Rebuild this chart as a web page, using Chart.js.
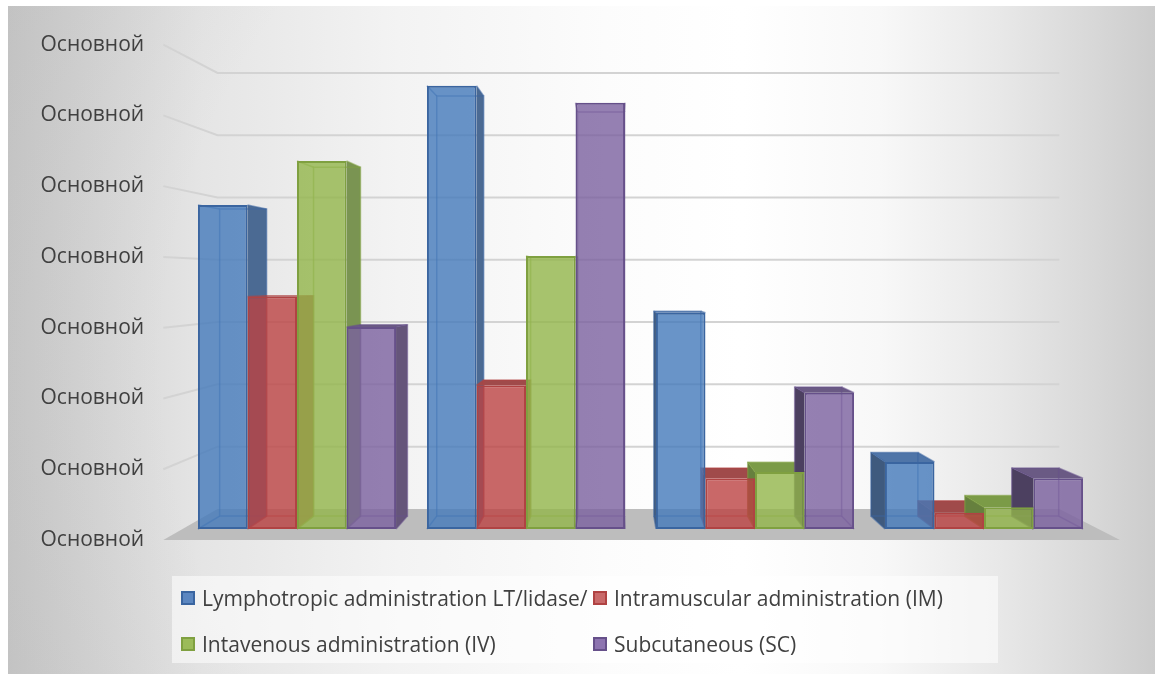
<!DOCTYPE html>
<html>
<head>
<meta charset="utf-8">
<script src="https://cdn.jsdelivr.net/npm/chart.js@4.4.1/dist/chart.umd.min.js"></script>
<style>
  html, body { margin: 0; padding: 0; background: #ffffff; }
  #wrap { position: relative; width: 1155px; height: 674px; overflow: hidden; }
  #chart { position: absolute; left: 0; top: 0; }
  #legend {
    position: absolute; left: 172px; top: 576px; width: 826px; height: 87px;
    background: rgba(255, 255, 255, 0.55);
    font-family: "Open Sans", "Liberation Sans", sans-serif; font-size: 21px; color: #404040;
  }
  .item { position: absolute; display: flex; align-items: center; white-space: nowrap; height: 30px; }
  .swatch { width: 10px; height: 10px; border: 2px solid; margin-right: 7px; flex: none; }
</style>
</head>
<body>
<div id="wrap">
  <canvas id="chart" width="1155" height="674"></canvas>
  <div id="legend"></div>
</div>
<script>
// ---- data -------------------------------------------------------------
const categories = ['I', 'II', 'III', 'IV'];
const seriesNames = [
  'Lymphotropic administration LT/lidase/',
  'Intramuscular administration (IM)',
  'Intavenous administration (IV)',
  'Subcutaneous (SC)'
];
const lymphotropic  = [47.8, 65.4, 31.9, 9.9];
const intramuscular = [34.3, 21.2, 7.5, 2.4];
const intravenous   = [54.3, 40.3, 8.4, 3.2];
const subcutaneous  = [29.8, 62.9, 20.1, 7.5];
const yTickLabels = ['Основной', 'Основной', 'Основной', 'Основной',
                     'Основной', 'Основной', 'Основной', 'Основной'];
const yMin = 0, yMax = 70;

// ---- styles -----------------------------------------------------------
const styles = [
  { face: 'rgba(68,121,186,0.80)',  border: '#3a65a0', right: '#4b6a93', left: '#3f5a7e', top: '#4f75a8', swatch: '#5b86c0' },
  { face: 'rgba(187,66,66,0.80)',   border: '#b04343', right: '#a84a4a', left: '#8e3c3c', top: '#a04a4a', swatch: '#c96a6a' },
  { face: 'rgba(146,181,74,0.80)',  border: '#7fa040', right: '#7a9452', left: '#66803e', top: '#7b9b47', swatch: '#9bbb59' },
  { face: 'rgba(122,96,159,0.80)',  border: '#66508a', right: '#65557a', left: '#4c4060', top: '#6a5a84', swatch: '#8d74b0' }
];
const seriesValues = [lymphotropic, intramuscular, intravenous, subcutaneous];

// perspective of the 3-D box, expressed relative to the bars' front plane
const VX = 615, VY = 281;          // vanishing point
const BAR_BACK = 0.948;            // back face of a bar
const LABEL_PLANE = 1 / 0.9575;    // front edge of floor and side wall
const WALL_PLANE = 0.88 / 0.9575;  // back wall
const project = (x, y, s) => [VX + (x - VX) * s, VY + (y - VY) * s];
const FONT = '21px "Open Sans", "Liberation Sans", sans-serif';
const TEXT = '#404040';

function poly(ctx, pts) {
  ctx.beginPath();
  ctx.moveTo(pts[0][0], pts[0][1]);
  for (let i = 1; i < pts.length; i++) ctx.lineTo(pts[i][0], pts[i][1]);
  ctx.closePath();
}

const scenePlugin = {
  id: 'scene3d',
  beforeDraw(chart) {
    const ctx = chart.ctx;
    const { left, right } = chart.chartArea;
    const ys = chart.scales.y;

    // chart background: light in the middle, grey towards the sides
    ctx.save();
    const g = ctx.createLinearGradient(8, 0, 1155, 0);
    g.addColorStop(0.00, '#c9c9c9');
    g.addColorStop(0.10, '#d9d9d9');
    g.addColorStop(0.17, '#e5e5e5');
    g.addColorStop(0.34, '#f3f3f3');
    g.addColorStop(0.52, '#fcfcfc');
    g.addColorStop(0.64, '#ffffff');
    g.addColorStop(0.76, '#f8f8f8');
    g.addColorStop(0.865, '#e8e8e8');
    g.addColorStop(0.95, '#d7d7d7');
    g.addColorStop(1.00, '#cccccc');
    ctx.fillStyle = g;
    ctx.fillRect(8, 6, 1147, 668);
    const r = ctx.createRadialGradient(740, 360, 50, 740, 360, 900);
    r.addColorStop(0, 'rgba(160,160,160,0)');
    r.addColorStop(0.62, 'rgba(160,160,160,0)');
    r.addColorStop(1, 'rgba(160,160,160,0.22)');
    ctx.fillStyle = r;
    ctx.fillRect(8, 6, 1147, 668);

    // gridlines: slanted along the side wall, then across the back wall
    const step = (yMax - yMin) / (yTickLabels.length - 1);
    ctx.strokeStyle = '#d3d3d3';
    ctx.lineWidth = 2;
    for (let i = 1; i < yTickLabels.length; i++) {
      const py = ys.getPixelForValue(yMin + i * step);
      const a = project(left, py, LABEL_PLANE);
      const b = project(left, py, WALL_PLANE);
      const c = project(right, py, WALL_PLANE);
      ctx.beginPath();
      ctx.moveTo(a[0], a[1]); ctx.lineTo(b[0], b[1]); ctx.lineTo(c[0], c[1]);
      ctx.stroke();
    }

    // floor
    const y0 = ys.getPixelForValue(yMin);
    ctx.fillStyle = '#bdbdbd';
    poly(ctx, [project(left, y0, LABEL_PLANE), project(right, y0, LABEL_PLANE),
               project(right, y0, WALL_PLANE), project(left, y0, WALL_PLANE)]);
    ctx.fill();

    // value axis labels on the front edge of the side wall
    ctx.fillStyle = TEXT;
    ctx.font = FONT;
    ctx.textAlign = 'left';
    ctx.textBaseline = 'middle';
    yTickLabels.forEach((lab, i) => {
      const py = ys.getPixelForValue(yMax - i * step);
      const p = project(left, py, LABEL_PLANE);
      ctx.fillText(lab, 40.5, p[1]);
    });
    ctx.restore();
  },
  beforeDatasetsDraw(chart) {
    const ctx = chart.ctx;
    ctx.save();
    chart.data.datasets.forEach((ds, di) => {
      const st = styles[di];
      chart.getDatasetMeta(di).data.forEach(bar => {
        const { x, y, base, width } = bar.getProps(['x', 'y', 'base', 'width'], true);
        const xl = x - width / 2, xr = x + width / 2;
        const f = [[xl, y], [xr, y], [xr, base], [xl, base]];
        const b = f.map(p => project(p[0], p[1], BAR_BACK));
        // visible side face
        if (x < VX) { ctx.fillStyle = st.right; poly(ctx, [f[1], b[1], b[2], f[2]]); }
        else        { ctx.fillStyle = st.left;  poly(ctx, [f[0], b[0], b[3], f[3]]); }
        ctx.fill();
        // top face when it lies below eye level
        if (y > VY) {
          ctx.fillStyle = st.top;
          poly(ctx, [f[0], f[1], b[1], b[0]]);
          ctx.fill();
        }
        // hidden edges seen through the glassy front
        ctx.strokeStyle = st.border;
        ctx.globalAlpha = 0.55;
        ctx.lineWidth = 1.5;
        poly(ctx, b); ctx.stroke();
        for (let k = 0; k < 4; k++) {
          ctx.beginPath(); ctx.moveTo(f[k][0], f[k][1]); ctx.lineTo(b[k][0], b[k][1]); ctx.stroke();
        }
        ctx.globalAlpha = 1;
      });
    });
    ctx.restore();
  }
};

const chart = new Chart(document.getElementById('chart'), {
  type: 'bar',
  data: {
    labels: categories,
    datasets: seriesNames.map((name, i) => ({
      label: name,
      data: seriesValues[i],
      backgroundColor: styles[i].face,
      borderColor: styles[i].border,
      borderWidth: 2,
      borderSkipped: false
    }))
  },
  options: {
    responsive: false,
    animation: false,
    devicePixelRatio: 1,
    layout: { padding: { left: 182.5, right: 56.5, top: 54.6, bottom: 145 } },
    datasets: { bar: { categoryPercentage: 0.865, barPercentage: 1 } },
    plugins: { legend: { display: false }, tooltip: { enabled: false } },
    scales: {
      x: { display: false, grid: { display: false } },
      y: { display: false, min: yMin, max: yMax, grid: { display: false } }
    }
  },
  plugins: [scenePlugin]
});

// legend laid out in two aligned columns
const legend = document.getElementById('legend');
const slots = [[9, 22], [421, 22], [9, 67.5], [421, 67.5]];
seriesNames.forEach((name, i) => {
  const it = document.createElement('div');
  it.className = 'item';
  it.style.left = slots[i][0] + 'px';
  it.style.top = (slots[i][1] - 15) + 'px';
  const sw = document.createElement('span');
  sw.className = 'swatch';
  sw.style.background = styles[i].swatch;
  sw.style.borderColor = styles[i].border;
  const tx = document.createElement('span');
  tx.textContent = name;
  it.appendChild(sw); it.appendChild(tx);
  legend.appendChild(it);
});
</script>
</body>
</html>
